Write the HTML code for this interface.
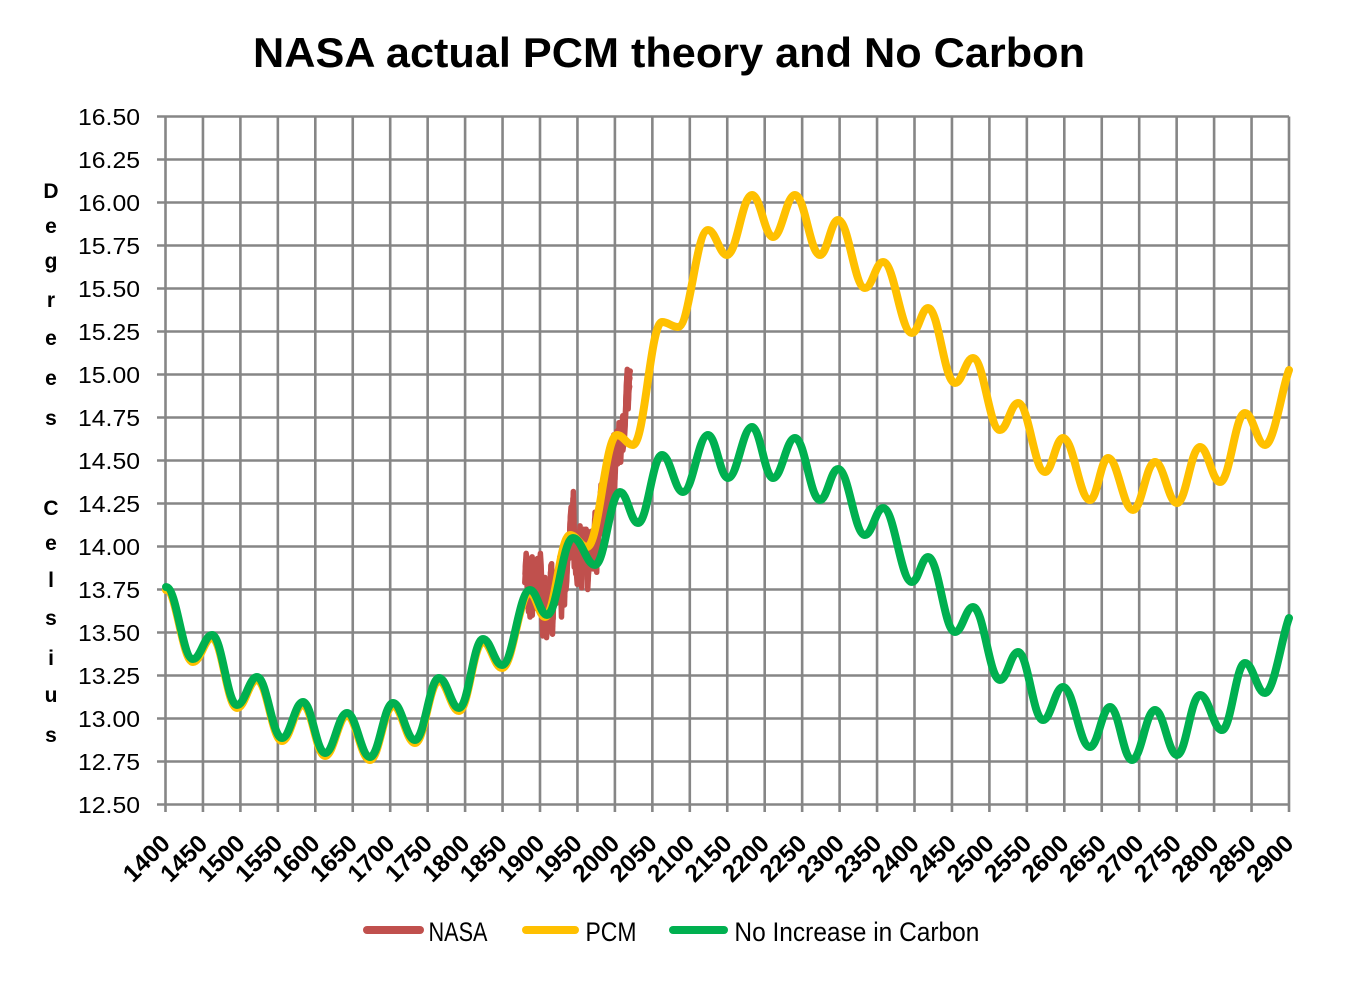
<!DOCTYPE html>
<html>
<head>
<meta charset="utf-8">
<style>
html,body{margin:0;padding:0;background:#fff;}
svg{display:block;}
text{font-family:"Liberation Sans",Arial,sans-serif;fill:#000;}
</style>
</head>
<body>
<svg width="1366" height="982" viewBox="0 0 1366 982" xmlns="http://www.w3.org/2000/svg">
<rect x="0" y="0" width="1366" height="982" fill="#fff"/>

<!-- Title -->
<text x="253" y="67" font-size="42" font-weight="bold" textLength="832" lengthAdjust="spacingAndGlyphs">NASA actual PCM theory and No Carbon</text>

<!-- Grid -->
<g stroke="#868686" stroke-width="2.6" fill="none">
<path d="M157,116.5H1289 M157,159.5H1289 M157,202.5H1289 M157,245.5H1289 M157,288.5H1289 M157,331.5H1289 M157,374.5H1289 M157,417.5H1289 M157,460.5H1289 M157,503.5H1289 M157,546.5H1289 M157,589.5H1289 M157,632.5H1289 M157,675.5H1289 M157,718.5H1289 M157,761.5H1289 M157,804.5H1289"/>
<path d="M165.5,116.5V812 M202.95,116.5V812 M240.4,116.5V812 M277.85,116.5V812 M315.3,116.5V812 M352.75,116.5V812 M390.2,116.5V812 M427.65,116.5V812 M465.1,116.5V812 M502.55,116.5V812 M540,116.5V812 M577.45,116.5V812 M614.9,116.5V812 M652.35,116.5V812 M689.8,116.5V812 M727.25,116.5V812 M764.7,116.5V812 M802.15,116.5V812 M839.6,116.5V812 M877.05,116.5V812 M914.5,116.5V812 M951.95,116.5V812 M989.4,116.5V812 M1026.85,116.5V812 M1064.3,116.5V812 M1101.75,116.5V812 M1139.2,116.5V812 M1176.65,116.5V812 M1214.1,116.5V812 M1251.55,116.5V812 M1289,116.5V812"/>
</g>

<!-- Y labels -->
<g font-size="23.5" text-anchor="start">
<text x="78" y="125" textLength="62" lengthAdjust="spacingAndGlyphs">16.50</text>
<text x="78" y="168" textLength="62" lengthAdjust="spacingAndGlyphs">16.25</text>
<text x="78" y="211" textLength="62" lengthAdjust="spacingAndGlyphs">16.00</text>
<text x="78" y="254" textLength="62" lengthAdjust="spacingAndGlyphs">15.75</text>
<text x="78" y="297" textLength="62" lengthAdjust="spacingAndGlyphs">15.50</text>
<text x="78" y="340" textLength="62" lengthAdjust="spacingAndGlyphs">15.25</text>
<text x="78" y="383" textLength="62" lengthAdjust="spacingAndGlyphs">15.00</text>
<text x="78" y="426" textLength="62" lengthAdjust="spacingAndGlyphs">14.75</text>
<text x="78" y="469" textLength="62" lengthAdjust="spacingAndGlyphs">14.50</text>
<text x="78" y="512" textLength="62" lengthAdjust="spacingAndGlyphs">14.25</text>
<text x="78" y="555" textLength="62" lengthAdjust="spacingAndGlyphs">14.00</text>
<text x="78" y="598" textLength="62" lengthAdjust="spacingAndGlyphs">13.75</text>
<text x="78" y="641" textLength="62" lengthAdjust="spacingAndGlyphs">13.50</text>
<text x="78" y="684" textLength="62" lengthAdjust="spacingAndGlyphs">13.25</text>
<text x="78" y="727" textLength="62" lengthAdjust="spacingAndGlyphs">13.00</text>
<text x="78" y="770" textLength="62" lengthAdjust="spacingAndGlyphs">12.75</text>
<text x="78" y="813" textLength="62" lengthAdjust="spacingAndGlyphs">12.50</text>
</g>

<!-- Axis title -->
<g font-size="21" font-weight="bold" text-anchor="middle">
<text x="51" y="198">D</text>
<text x="51" y="233">e</text>
<text x="51" y="268">g</text>
<text x="51" y="307">r</text>
<text x="51" y="345">e</text>
<text x="51" y="385">e</text>
<text x="51" y="425">s</text>
<text x="51" y="515">C</text>
<text x="51" y="550">e</text>
<text x="51" y="587">l</text>
<text x="51" y="625">s</text>
<text x="51" y="665">i</text>
<text x="51" y="702">u</text>
<text x="51" y="742">s</text>
</g>

<!-- X labels -->
<g font-size="24.5" font-weight="bold" text-anchor="end">
<text transform="translate(171.5,845) rotate(-45)">1400</text>
<text transform="translate(208.95,845) rotate(-45)">1450</text>
<text transform="translate(246.4,845) rotate(-45)">1500</text>
<text transform="translate(283.85,845) rotate(-45)">1550</text>
<text transform="translate(321.3,845) rotate(-45)">1600</text>
<text transform="translate(358.75,845) rotate(-45)">1650</text>
<text transform="translate(396.2,845) rotate(-45)">1700</text>
<text transform="translate(433.65,845) rotate(-45)">1750</text>
<text transform="translate(471.1,845) rotate(-45)">1800</text>
<text transform="translate(508.55,845) rotate(-45)">1850</text>
<text transform="translate(546,845) rotate(-45)">1900</text>
<text transform="translate(583.45,845) rotate(-45)">1950</text>
<text transform="translate(620.9,845) rotate(-45)">2000</text>
<text transform="translate(658.35,845) rotate(-45)">2050</text>
<text transform="translate(695.8,845) rotate(-45)">2100</text>
<text transform="translate(733.25,845) rotate(-45)">2150</text>
<text transform="translate(770.7,845) rotate(-45)">2200</text>
<text transform="translate(808.15,845) rotate(-45)">2250</text>
<text transform="translate(845.6,845) rotate(-45)">2300</text>
<text transform="translate(883.05,845) rotate(-45)">2350</text>
<text transform="translate(920.5,845) rotate(-45)">2400</text>
<text transform="translate(957.95,845) rotate(-45)">2450</text>
<text transform="translate(995.4,845) rotate(-45)">2500</text>
<text transform="translate(1032.85,845) rotate(-45)">2550</text>
<text transform="translate(1070.3,845) rotate(-45)">2600</text>
<text transform="translate(1107.75,845) rotate(-45)">2650</text>
<text transform="translate(1145.2,845) rotate(-45)">2700</text>
<text transform="translate(1182.65,845) rotate(-45)">2750</text>
<text transform="translate(1220.1,845) rotate(-45)">2800</text>
<text transform="translate(1257.55,845) rotate(-45)">2850</text>
<text transform="translate(1295,845) rotate(-45)">2900</text>
</g>

<!-- NASA series -->
<g transform="matrix(0.749,0,0,-172,-883.1,546.5)" fill="none" stroke="#C0504D" stroke-linejoin="round" stroke-linecap="round">
<polyline id="nasa" vector-effect="non-scaling-stroke" stroke-width="5.5" points="1880,-0.16 1881,-0.08 1882,-0.11 1883,-0.17 1884,-0.28 1885,-0.33 1886,-0.31 1887,-0.36 1888,-0.17 1889,-0.10 1890,-0.35 1891,-0.22 1892,-0.27 1893,-0.31 1894,-0.30 1895,-0.22 1896,-0.11 1897,-0.11 1898,-0.26 1899,-0.17 1900,-0.08 1901,-0.15 1902,-0.28 1903,-0.37 1904,-0.47 1905,-0.26 1906,-0.22 1907,-0.39 1908,-0.43 1909,-0.48 1910,-0.43 1911,-0.44 1912,-0.36 1913,-0.34 1914,-0.15 1915,-0.14 1916,-0.36 1917,-0.46 1918,-0.29 1919,-0.27 1920,-0.27 1921,-0.19 1922,-0.28 1923,-0.26 1924,-0.27 1925,-0.22 1926,-0.10 1927,-0.22 1928,-0.20 1929,-0.36 1930,-0.16 1931,-0.09 1932,-0.16 1933,-0.29 1934,-0.12 1935,-0.20 1936,-0.15 1937,-0.03 1938,-0.01 1939,-0.02 1940,0.13 1941,0.19 1942,0.07 1943,0.09 1944,0.28 1945,0.09 1946,-0.07 1947,-0.03 1948,-0.11 1949,-0.11 1950,-0.17 1951,-0.07 1952,0.01 1953,0.08 1954,-0.13 1955,-0.14 1956,-0.19 1957,0.05 1958,0.06 1959,0.03 1960,-0.03 1961,0.06 1962,0.03 1963,0.05 1964,-0.20 1965,-0.11 1966,-0.06 1967,-0.02 1968,-0.08 1969,0.05 1970,0.03 1971,-0.08 1972,0.01 1973,0.16 1974,-0.07 1975,-0.01 1976,-0.10 1977,0.18 1978,0.07 1979,0.16 1980,0.26 1981,0.32 1982,0.14 1983,0.31 1984,0.16 1985,0.12 1986,0.18 1987,0.32 1988,0.39 1989,0.27 1990,0.45 1991,0.40 1992,0.22 1993,0.23 1994,0.31 1995,0.45 1996,0.33 1997,0.46 1998,0.61 1999,0.38 2000,0.39 2001,0.54 2002,0.63 2003,0.62 2004,0.53 2005,0.68 2006,0.64 2007,0.66 2008,0.54 2009,0.65 2010,0.72 2011,0.61 2012,0.64 2013,0.68 2014,0.75 2015,0.90 2016,0.99 2017,0.92 2018,0.85 2019,0.96 2020,0.98"/>
<use href="#nasa" transform="translate(0.5,0.04)"/>
<use href="#nasa" transform="translate(-0.3,-0.05)"/>
</g>

<!-- PCM series -->
<path fill="none" stroke="#FFC000" stroke-width="8" stroke-linejoin="round" stroke-linecap="round" d="M166,590 C176.8,590 182.2,662 193,662 C200.6,662 204.4,638 212,638 C222,638 227,708 237,708 C245,708 249,680 257,680 C267,680 272,741 282,741 C290.4,741 294.6,705 303,705 C311.8,705 316.2,756 325,756 C333.8,756 338.2,716 347,716 C356.2,716 360.8,760 370,760 C379.2,760 383.8,706 393,706 C401.8,706 406.2,743 415,743 C424.6,743 429.4,681 439,681 C447,681 451,711 459,711 C468.6,711 473.4,642 483,642 C490.6,642 494.4,668 502,668 C513.2,668 518.8,593 530,593 C536,593 539,617 545,617 C555,617 560,535 570,535 C576.8,535 580.2,547 587,547 C599,547 605,435 617,435 C623.4,435 626.6,445 633,445 C644.6,445 650.4,322 662,322 C668.4,322 671.6,327 678,327 C690,327 696,230 708,230 C715.6,230 719.4,255 727,255 C737,255 742,195 752,195 C760.4,195 764.6,237 773,237 C781.8,237 786.2,195 795,195 C805,195 810,255 820,255 C827.2,255 830.8,220 838,220 C848.8,220 854.2,288 865,288 C872.2,288 875.8,262 883,262 C894.6,262 900.4,333 912,333 C918.4,333 921.6,308 928,308 C938.8,308 944.2,383 955,383 C962.2,383 965.8,358 973,358 C983.8,358 989.2,430 1000,430 C1007.2,430 1010.8,403 1018,403 C1028.8,403 1034.2,472 1045,472 C1052.2,472 1055.8,438 1063,438 C1073.8,438 1079.2,500 1090,500 C1097.2,500 1100.8,458 1108,458 C1118,458 1123,510 1133,510 C1141.8,510 1146.2,462 1155,462 C1163.8,462 1168.2,503 1177,503 C1186.2,503 1190.8,447 1200,447 C1208,447 1212,482 1220,482 C1230,482 1235,413 1245,413 C1253,413 1257,445 1265,445 C1274,445 1282,388 1289,370"/>

<!-- No Increase in Carbon series -->
<path fill="none" stroke="#00B050" stroke-width="8" stroke-linejoin="round" stroke-linecap="round" d="M166,587 C176.8,587 182.2,659 193,659 C200.6,659 204.4,635 212,635 C222,635 227,705 237,705 C245,705 249,677 257,677 C267,677 272,738 282,738 C290.4,738 294.6,702 303,702 C311.8,702 316.2,753 325,753 C333.8,753 338.2,713 347,713 C356.2,713 360.8,757 370,757 C379.2,757 383.8,703 393,703 C401.8,703 406.2,740 415,740 C424.6,740 429.4,678 439,678 C447,678 451,708 459,708 C468.6,708 473.4,639 483,639 C490.6,639 494.4,665 502,665 C513.2,665 518.8,590 530,590 C536.8,590 540.2,615 547,615 C557.4,615 562.6,538 573,538 C581.8,538 586.2,565 595,565 C605,565 610,492 620,492 C627.2,492 630.8,523 638,523 C647.6,523 652.4,455 662,455 C670.4,455 674.6,492 683,492 C693,492 698,435 708,435 C716,435 720,478 728,478 C737.6,478 742.4,427 752,427 C760.4,427 764.6,478 773,478 C781.8,478 786.2,438 795,438 C805,438 810,500 820,500 C827.2,500 830.8,469 838,469 C848.8,469 854.2,535 865,535 C872.2,535 875.8,508 883,508 C894.6,508 900.4,582 912,582 C918.4,582 921.6,557 928,557 C938.8,557 944.2,632 955,632 C962.2,632 965.8,607 973,607 C983.8,607 989.2,680 1000,680 C1007.2,680 1010.8,652 1018,652 C1028,652 1033,720 1043,720 C1051,720 1055,687 1063,687 C1073.8,687 1079.2,747 1090,747 C1098,747 1102,707 1110,707 C1118.8,707 1123.2,760 1132,760 C1141.2,760 1145.8,710 1155,710 C1163.8,710 1168.2,755 1177,755 C1186.2,755 1190.8,695 1200,695 C1208.8,695 1213.2,730 1222,730 C1231.2,730 1235.8,663 1245,663 C1253,663 1257,693 1265,693 C1274,693 1282,636 1289,618"/>

<!-- Legend -->
<g stroke-width="8" stroke-linecap="round">
<line x1="367" y1="930" x2="420" y2="930" stroke="#C0504D"/>
<line x1="526" y1="930" x2="575" y2="930" stroke="#FFC000"/>
<line x1="673" y1="930" x2="724" y2="930" stroke="#00B050"/>
</g>
<g font-size="27">
<text x="428.5" y="941" textLength="59" lengthAdjust="spacingAndGlyphs">NASA</text>
<text x="585.5" y="941" textLength="51" lengthAdjust="spacingAndGlyphs">PCM</text>
<text x="734.4" y="941" textLength="245" lengthAdjust="spacingAndGlyphs">No Increase in Carbon</text>
</g>
</svg>
</body>
</html>
